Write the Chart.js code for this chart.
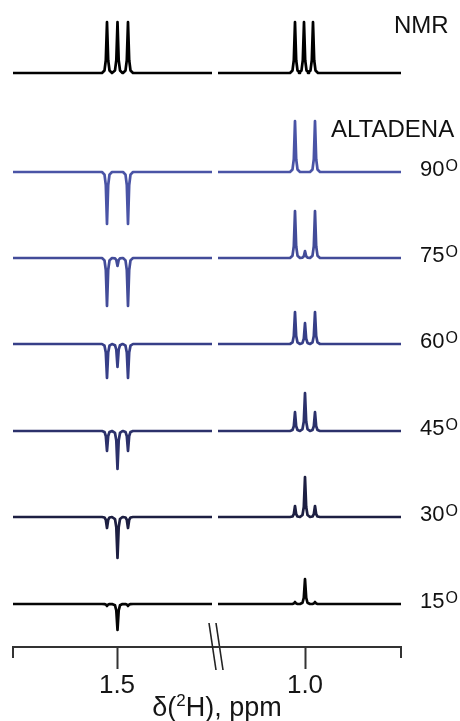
<!DOCTYPE html>
<html><head><meta charset="utf-8">
<script src="https://cdn.jsdelivr.net/npm/chart.js@4.4.1/dist/chart.umd.min.js"></script>
<style>
html,body{margin:0;padding:0;background:#fff;}
#wrap{position:relative;width:460px;height:721px;overflow:hidden;font-family:"Liberation Sans",Arial,sans-serif;background:#fff;}
#cl{position:absolute;left:0;top:0;}
#cr{position:absolute;left:215px;top:0;}
#xt{position:absolute;left:0;width:434px;top:694px;line-height:26px;text-align:center;font-size:27px;color:#151515;white-space:nowrap;}
#xt sup{font-size:17px;line-height:0;vertical-align:10px;}
</style></head>
<body><div id="wrap">
<canvas id="cl" width="230" height="721"></canvas>
<canvas id="cr" width="245" height="721"></canvas>
<div id="xt">δ(<sup>2</sup>H), ppm</div>
</div>
<script>
// ---------- data ----------
const traceNames = ['NMR', '90', '75', '60', '45', '30', '15'];
const traceOffsets = [574, 475, 389, 303, 216, 130, 43];      // vertical stacking (a.u.)
const leftRange = [1.708, 1.310];                              // ppm span drawn, left panel
const rightRange = [1.174, 0.808];                             // ppm span drawn, right panel
const leftPeaks = [1.520, 1.499, 1.478];                       // ppm
const rightPeaks = [1.020, 1.000, 0.980];                      // ppm
const nmrRightPeaks = [1.020, 1.002, 0.984];                   // ppm
const leftAmplitudes = [
  [51, 51, 51],      // NMR
  [-52, 0, -52],     // 90
  [-48, -8, -48],    // 75
  [-34, -23, -34],   // 60
  [-20, -38, -20],   // 45
  [-11, -41, -11],   // 30
  [-2, -26, -2]      // 15
];
const rightAmplitudes = [
  [51, 51, 51],
  [51, 0, 51],
  [47, 7, 47],
  [32, 21, 32],
  [19, 38, 19],
  [11, 40, 11],
  [2, 25, 2]
];
const leftTicks = [1.5];
const rightTicks = [1.0];
const labelNMR = 'NMR';
const labelALT = 'ALTADENA';

// ---------- style ----------
const colors = ['#000000', '#4a54a6', '#434c99', '#373f88', '#2c316b', '#1d1f42', '#050505'];
const shape = [[0.010, 0], [0.005, 0.05], [0.0024, 0.25], [0, 1]]; // peak line-shape (ppm offset, rel. height)

function buildTrace(range, peaks, amps, offset) {
  const pts = [{x: range[0], y: offset}];
  peaks.forEach((p, i) => {
    const h = amps[i];
    for (let k = 0; k < shape.length; k++) pts.push({x: p + shape[k][0], y: offset + h * shape[k][1]});
    for (let k = shape.length - 2; k >= 0; k--) pts.push({x: p - shape[k][0], y: offset + h * shape[k][1]});
  });
  pts.push({x: range[1], y: offset});
  return pts;
}

function datasets(side) {
  return traceNames.map((n, i) => {
    const peaks = side === 'L' ? leftPeaks : (i === 0 ? nmrRightPeaks : rightPeaks);
    const amps = side === 'L' ? leftAmplitudes[i] : rightAmplitudes[i];
    const range = side === 'L' ? leftRange : rightRange;
    return {
      label: n,
      data: buildTrace(range, peaks, amps, traceOffsets[i]),
      borderColor: colors[i],
      borderWidth: 2.7,
      pointRadius: 0,
      tension: 0,
      borderJoinStyle: 'round',
      borderCapStyle: 'butt',
      fill: false,
      clip: false
    };
  });
}

const endTickPlugin = {
  id: 'endTick',
  afterDraw(chart, args, opts) {
    const c = chart.ctx, xs = chart.scales.x, b = chart.chartArea.bottom;
    c.save();
    c.strokeStyle = '#333'; c.lineWidth = 2;
    const x = Math.round(xs.getPixelForValue(opts.value));
    c.beginPath(); c.moveTo(x, b); c.lineTo(x, b + 11); c.stroke();
    if (opts.breakMark) {
      c.strokeStyle = '#222'; c.lineWidth = 1.6;
      const xr = chart.chartArea.right;
      [[-6, 1], [1, 8]].forEach(d => {
        c.beginPath(); c.moveTo(xr + d[0], b - 24); c.lineTo(xr + d[1], b + 23); c.stroke();
      });
    }
    c.restore();
  }
};

const labelPlugin = {
  id: 'labels',
  afterDraw(chart) {
    const c = chart.ctx, ys = chart.scales.y;
    const ox = 215;
    c.save();
    c.fillStyle = '#111';
    c.textBaseline = 'alphabetic';
    c.font = '24px "Liberation Sans", Arial, sans-serif';
    c.fillText(labelNMR, 394 - ox, 33);
    c.fillText(labelALT, 331 - ox, 137);
    for (let i = 1; i < traceNames.length; i++) {
      const y = ys.getPixelForValue(traceOffsets[i]) - 2;
      c.font = '22px "Liberation Sans", Arial, sans-serif';
      c.textBaseline = 'middle';
      const t = traceNames[i];
      c.fillText(t, 420 - ox, y);
      const w = c.measureText(t).width;
      c.font = '16px "Liberation Sans", Arial, sans-serif';
      c.textBaseline = 'alphabetic';
      c.fillText('O', 420 - ox + w + 1, y + 1);
    }
    c.restore();
  }
};

function makeChart(id, side) {
  const L = side === 'L';
  const ticksArr = L ? leftTicks : rightTicks;
  return new Chart(document.getElementById(id), {
    type: 'line',
    data: {datasets: datasets(side)},
    options: {
      responsive: false,
      animation: false,
      devicePixelRatio: 1,
      layout: {padding: L ? {left: 13, right: 15, top: 0, bottom: 0} : {left: 0, right: 59, top: 0, bottom: 0}},
      plugins: {
        legend: {display: false},
        tooltip: {enabled: false},
        endTick: L ? {value: 1.708, breakMark: true} : {value: 0.808, breakMark: false}
      },
      scales: {
        x: {
          type: 'linear',
          reverse: true,
          min: L ? 1.304 : 0.808,
          max: L ? 1.708 : 1.180,
          afterBuildTicks: s => { s.ticks = ticksArr.map(v => ({value: v})); },
          afterFit: s => { s.height = 74; },
          ticks: {
            font: {family: '"Liberation Sans", Arial, sans-serif', size: 26},
            color: '#151515',
            padding: 1,
            maxRotation: 0,
            autoSkip: false,
            callback: v => Number(v).toFixed(1)
          },
          grid: {display: true, drawOnChartArea: false, drawTicks: true, tickLength: 22, tickWidth: 2, tickColor: '#333'},
          border: {display: true, color: '#333', width: 2}
        },
        y: {type: 'linear', min: 0, max: 647, display: false}
      }
    },
    plugins: L ? [endTickPlugin] : [endTickPlugin, labelPlugin]
  });
}

makeChart('cl', 'L');
makeChart('cr', 'R');
</script>
</body></html>
